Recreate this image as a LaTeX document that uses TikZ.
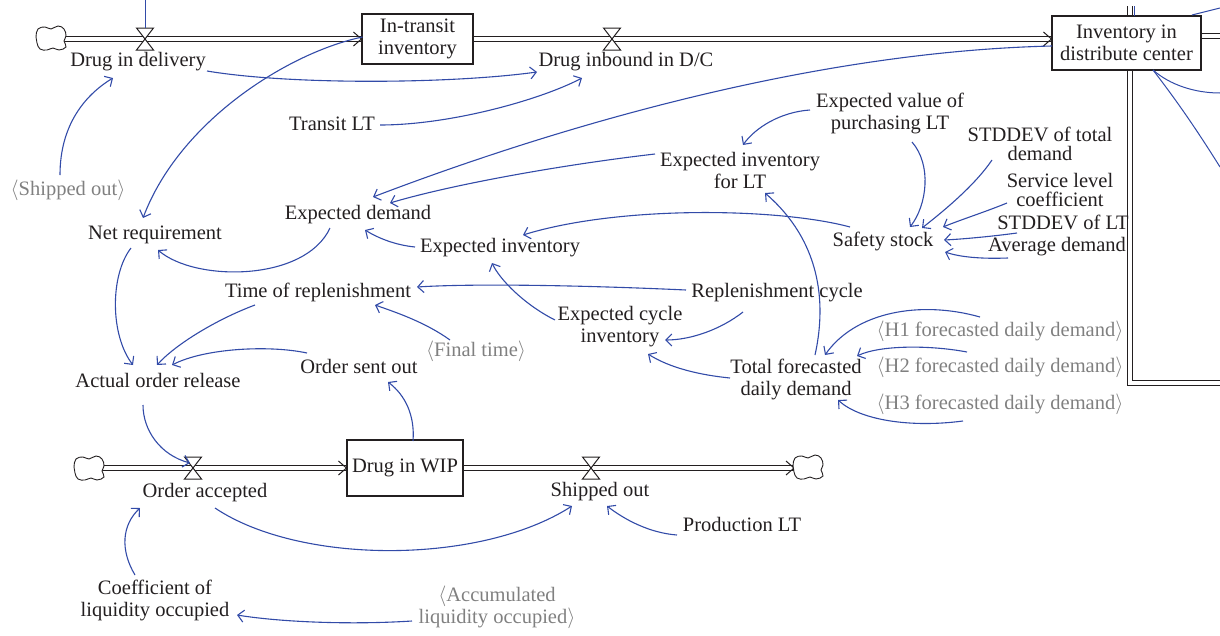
\documentclass[tikz,border=0pt]{standalone}
\usepackage{fontspec}
\setmainfont{Liberation Serif}
\usetikzlibrary{arrows.meta}
\definecolor{cblue}{RGB}{50,75,168}
\definecolor{ghost}{RGB}{128,128,128}
\definecolor{ink}{RGB}{35,31,32}
\newcommand\drawvalve[1]{\draw[ink, line width=1pt, fill=white] (#1.north west) -- (#1.north east) -- (#1.south west) -- (#1.south east) -- cycle;}
\newcommand\pipetip[1]{\draw[ink, line width=1pt] ([shift={(-8,-7)}]#1) -- (#1) -- ([shift={(-8,7)}]#1);}
\begin{document}
\begin{tikzpicture}[x=1pt,y=-1pt,
  lab/.style={font=\fontsize{20.5}{22}\selectfont, text=ink, inner sep=1pt, align=center},
  glab/.style={lab, text=ghost},
  stock/.style={lab, draw=ink, line width=1.1pt, fill=white, inner sep=0pt},
  valvebox/.style={minimum width=17pt, minimum height=22pt, inner sep=0pt, outer sep=0pt},
  pipe/.style={draw=ink, line width=1pt, double=white, double distance=4pt},
  conn/.style={draw=cblue, line width=1.1pt, -{Straight Barb[length=6pt,width=12pt]}},
  link/.style={draw=cblue, line width=1pt},
  cloudpic/.pic={\draw[ink, line width=0.9pt, fill=white] plot[smooth cycle, tension=0.7] coordinates {(-15,-1) (-13,-9) (-6,-11) (0,-9) (7,-12) (13,-9) (15,-2) (13,3) (15,9) (8,12) (2,10) (-4,12) (-11,11) (-14,5)};}
]
\useasboundingbox (0,0) rectangle (1220,635);

% ---------- coordinates and structural nodes
\coordinate (c1) at (51,38);
\coordinate (c2) at (89,468);
\coordinate (c3) at (808,467);
\coordinate (topin) at (145,0);
\coordinate (r1) at (1220,93);
\coordinate (r2) at (1220,167);
\coordinate (r3) at (1220,8);
\coordinate (r4) at (1134,6);
\coordinate (rpipe0) at (1130,6);
\coordinate (rpipe1) at (1130,383);
\coordinate (rpipe2) at (1222,383);
\coordinate (rout) at (1222,36);

\node[valvebox] (vdeliv) at (145,39) {};
\node[valvebox] (vinb) at (612,39) {};
\node[valvebox] (vacc) at (193,468) {};
\node[valvebox] (vship) at (591,468) {};

% pipes (behind)
\draw[pipe] (rpipe0) -- (rpipe1) -- (rpipe2);
\draw[pipe] (c1 |- 0,39) -- (417,39);
\draw[pipe] (417,39) -- (1126,39);
\draw[pipe] (1126,36) -- (rout);
\draw[pipe] (c2) -- (405,468);
\draw[pipe] (405,468) -- (c3 |- 0,468);

% stocks
\node[stock, minimum width=111pt, minimum height=50pt] (intr) at (417.5,39) {In-transit\\inventory};
\node[stock, minimum width=149pt, minimum height=54pt] (invdc) at (1126.5,43) {Inventory in\\distribute center};
\node[stock, minimum width=116pt, minimum height=56pt] (wip) at (405,468) {Drug in WIP};
\coordinate (tipdc) at ([shift={(0,-4)}]invdc.west);

\pipetip{intr.west}
\pipetip{tipdc}
\pipetip{wip.west}
\draw[ink, line width=1pt] (786,461) -- (794,468) -- (786,475);

\pic at (c1) {cloudpic};
\pic at (c2) {cloudpic};
\pic at (c3) {cloudpic};

\drawvalve{vdeliv}
\drawvalve{vinb}
\drawvalve{vacc}
\drawvalve{vship}

% ---------- labels
\node[lab] (dind) at (138,62) {Drug in delivery};
\node[lab] (dinb) at (626,62) {Drug inbound in D/C};
\node[lab] (transit) at (332,124) {Transit LT};
\node[lab] (evpl) at (890,113) {Expected value of\\purchasing LT};
\node[lab, font=\fontsize{20.5}{18.5}\selectfont] (sdtd) at (1040,144) {STDDEV of total\\demand};
\node[lab, font=\fontsize{20.5}{19}\selectfont] (slc) at (1060,190) {Service level\\coefficient};
\node[lab] (sdlt) at (1063,222) {STDDEV of LT};
\node[lab] (avgd) at (1057,247) {Average demand};
\node[lab] (eilt) at (740,170) {Expected inventory\\for LT};
\node[lab] (ss) at (883,241) {Safety stock};
\node[lab] (ed) at (358,215) {Expected demand};
\node[lab] (nr) at (155,235) {Net requirement};
\node[lab] (ei) at (500,248) {Expected inventory};
\node[lab] (tor) at (318,292) {Time of replenishment};
\node[lab] (rc) at (777,293) {Replenishment cycle};
\node[lab] (eci) at (620,327) {Expected cycle\\inventory};
\node[glab] (ft) at (476,351) {$\langle$Final time$\rangle$};
\node[lab] (oso) at (359,366) {Order sent out};
\node[lab] (aor) at (158,380) {Actual order release};
\node[lab] (tfdd) at (796,379) {Total forecasted\\daily demand};
\node[glab] (h1) at (1000,331) {$\langle$H1 forecasted daily demand$\rangle$};
\node[glab] (h2) at (1000,367) {$\langle$H2 forecasted daily demand$\rangle$};
\node[glab] (h3) at (1000,404) {$\langle$H3 forecasted daily demand$\rangle$};
\node[glab] (sog) at (68,190) {$\langle$Shipped out$\rangle$};
\node[lab] (oacc) at (205,493) {Order accepted};
\node[lab] (ship) at (600,492) {Shipped out};
\node[lab] (plt) at (742,524) {Production LT};
\node[lab] (clo) at (155,600) {Coefficient of\\liquidity occupied};
\node[glab] (alo) at (497,607) {$\langle$Accumulated\\liquidity occupied$\rangle$};

% ---------- connectors
\draw[link] (topin) -- (vdeliv.north);
\draw[conn] ([shift={(-8,-15)}]sog.center) .. controls (60,125) and (85,95) .. ([shift={(-25,16)}]dind.center);
\draw[conn] ([shift={(69,9)}]dind.center) .. controls (290,85) and (450,84) .. ([shift={(-89,10)}]dinb.center);
\draw[conn] ([shift={(48,1)}]transit.center) .. controls (450,125) and (540,100) .. ([shift={(-44,16)}]dinb.center);
\draw[conn] ([shift={(-55,-2)}]intr.center) .. controls (290,52) and (180,120) .. ([shift={(-12,-17)}]nr.center);
\draw[conn] ([shift={(-74.5,3)}]invdc.center) .. controls (800,52) and (538,134) .. ([shift={(15,-18)}]ed.center);
\draw[conn] ([shift={(-85,-16)}]eilt.center) .. controls (560,165) and (450,185) .. ([shift={(32,-12)}]ed.center);
\draw[conn] ([shift={(-85,-1)}]ei.center) .. controls (395,245) and (378,238) .. ([shift={(7,15)}]ed.center);
\draw[conn] ([shift={(-28,13)}]ed.center) .. controls (305,282) and (195,282) .. ([shift={(3,15)}]nr.center);
\draw[conn] ([shift={(-24,13)}]nr.center) .. controls (110,275) and (110,335) .. ([shift={(-25,-15)}]aor.center);
\draw[conn] ([shift={(-63,13)}]tor.center) .. controls (215,320) and (175,345) .. ([shift={(-1,-15)}]aor.center);
\draw[conn] ([shift={(-52,-13)}]oso.center) .. controls (270,345) and (205,348) .. ([shift={(14,-15)}]aor.center);
\draw[conn] ([shift={(-26,-11)}]ft.center) .. controls (425,322) and (395,312) .. ([shift={(57,13)}]tor.center);
\draw[conn] ([shift={(-91,-3)}]rc.center) .. controls (600,286) and (480,283) .. ([shift={(99,-5)}]tor.center);
\draw[conn] ([shift={(-34,19)}]rc.center) .. controls (720,330) and (690,340) .. ([shift={(45,13)}]eci.center);
\draw[conn] ([shift={(-66,-1)}]tfdd.center) .. controls (700,375) and (670,368) .. ([shift={(28,27)}]eci.center);
\draw[conn] ([shift={(-65,-7)}]eci.center) .. controls (525,305) and (500,280) .. ([shift={(-8,15)}]ei.center);
\draw[conn] ([shift={(-33,-14)}]ss.center) .. controls (780,208) and (620,205) .. ([shift={(23,-13)}]ei.center);
\draw[conn] ([shift={(19,-24)}]tfdd.center) .. controls (825,310) and (825,245) .. ([shift={(25,23)}]eilt.center);
\draw[conn] ([shift={(-80,-3)}]evpl.center) .. controls (780,112) and (755,128) .. ([shift={(3,-25)}]eilt.center);
\draw[conn] ([shift={(22,29)}]evpl.center) .. controls (932,165) and (927,205) .. ([shift={(27,-14)}]ss.center);
\draw[conn] ([shift={(-48,16)}]sdtd.center) .. controls (975,185) and (945,210) .. ([shift={(39,-13)}]ss.center);
\draw[conn] ([shift={(-53,13)}]slc.center) .. controls (985,212) and (960,220) .. ([shift={(60,-14)}]ss.center);
\draw[conn] ([shift={(-46,11)}]sdlt.center) .. controls (995,236) and (965,239) .. ([shift={(61,-1)}]ss.center);
\draw[conn] ([shift={(-49,11)}]avgd.center) .. controls (980,259) and (960,257) .. ([shift={(62,11)}]ss.center);
\draw[conn] ([shift={(-20,-14)}]h1.center) .. controls (920,300) and (855,312) .. ([shift={(29,-24)}]tfdd.center);
\draw[conn] ([shift={(-33,-15)}]h2.center) .. controls (930,345) and (880,345) .. ([shift={(61,-23)}]tfdd.center);
\draw[conn] ([shift={(-37,17)}]h3.center) .. controls (910,428) and (860,420) .. ([shift={(42,21)}]tfdd.center);
\draw[conn] ([shift={(-15,25)}]aor.center) .. controls (143,430) and (160,455) .. ([shift={(-3,-5)}]vacc.center);
\draw[conn] ([shift={(8,-27)}]wip.center) .. controls (415,415) and (405,395) .. ([shift={(29,16)}]oso.center);
\draw[conn] ([shift={(10,15)}]oacc.center) .. controls (300,565) and (480,565) .. ([shift={(-28,14)}]ship.center);
\draw[conn] ([shift={(-65,11)}]plt.center) .. controls (650,533) and (625,520) .. ([shift={(7,14)}]ship.center);
\draw[conn] ([shift={(-20,-25)}]clo.center) .. controls (120,550) and (122,525) .. ([shift={(-65,15)}]oacc.center);
\draw[conn] ([shift={(-85,14)}]alo.center) .. controls (350,625) and (280,622) .. ([shift={(82,15)}]clo.center);

% connectors leaving the picture on the right
\draw[link] ([shift={(26.5,27)}]invdc.center) .. controls (1170,85) and (1195,93) .. (r1);
\draw[link] ([shift={(26.5,27)}]invdc.center) .. controls (1180,105) and (1200,135) .. (r2);
\draw[link] ([shift={(65.5,-28)}]invdc.center) -- (r3);
\draw[link] ([shift={(7.5,-27)}]invdc.center) -- (r4);
\end{tikzpicture}
\end{document}
